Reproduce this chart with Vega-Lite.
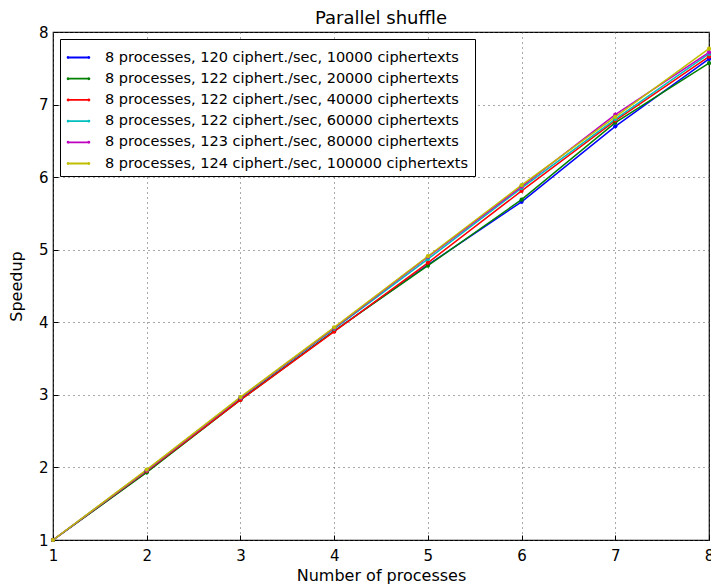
{
  "$schema": "https://vega.github.io/schema/vega-lite/v6.json",
  "width": 656,
  "height": 508,
  "autosize": {"type": "none"},
  "padding": {"left": 53, "top": 32, "right": 2, "bottom": 46},
  "background": "white",
  "title": {"text": "Parallel shuffle", "font": "DejaVu Sans", "fontSize": 18, "fontWeight": "normal", "color": "black", "offset": -3},
  "config": {
    "view": {"stroke": "black", "strokeWidth": 1.2},
    "font": "DejaVu Sans"
  },
  "data": {"values": [
    {"p": 1, "s": 1.00, "series": "8 processes, 120 ciphert./sec, 10000 ciphertexts"},
    {"p": 2, "s": 1.94, "series": "8 processes, 120 ciphert./sec, 10000 ciphertexts"},
    {"p": 3, "s": 2.94, "series": "8 processes, 120 ciphert./sec, 10000 ciphertexts"},
    {"p": 4, "s": 3.88, "series": "8 processes, 120 ciphert./sec, 10000 ciphertexts"},
    {"p": 5, "s": 4.79, "series": "8 processes, 120 ciphert./sec, 10000 ciphertexts"},
    {"p": 6, "s": 5.66, "series": "8 processes, 120 ciphert./sec, 10000 ciphertexts"},
    {"p": 7, "s": 6.70, "series": "8 processes, 120 ciphert./sec, 10000 ciphertexts"},
    {"p": 8, "s": 7.63, "series": "8 processes, 120 ciphert./sec, 10000 ciphertexts"},
    {"p": 1, "s": 1.00, "series": "8 processes, 122 ciphert./sec, 20000 ciphertexts"},
    {"p": 2, "s": 1.93, "series": "8 processes, 122 ciphert./sec, 20000 ciphertexts"},
    {"p": 3, "s": 2.93, "series": "8 processes, 122 ciphert./sec, 20000 ciphertexts"},
    {"p": 4, "s": 3.88, "series": "8 processes, 122 ciphert./sec, 20000 ciphertexts"},
    {"p": 5, "s": 4.78, "series": "8 processes, 122 ciphert./sec, 20000 ciphertexts"},
    {"p": 6, "s": 5.69, "series": "8 processes, 122 ciphert./sec, 20000 ciphertexts"},
    {"p": 7, "s": 6.75, "series": "8 processes, 122 ciphert./sec, 20000 ciphertexts"},
    {"p": 8, "s": 7.57, "series": "8 processes, 122 ciphert./sec, 20000 ciphertexts"},
    {"p": 1, "s": 1.00, "series": "8 processes, 122 ciphert./sec, 40000 ciphertexts"},
    {"p": 2, "s": 1.95, "series": "8 processes, 122 ciphert./sec, 40000 ciphertexts"},
    {"p": 3, "s": 2.93, "series": "8 processes, 122 ciphert./sec, 40000 ciphertexts"},
    {"p": 4, "s": 3.87, "series": "8 processes, 122 ciphert./sec, 40000 ciphertexts"},
    {"p": 5, "s": 4.82, "series": "8 processes, 122 ciphert./sec, 40000 ciphertexts"},
    {"p": 6, "s": 5.81, "series": "8 processes, 122 ciphert./sec, 40000 ciphertexts"},
    {"p": 7, "s": 6.78, "series": "8 processes, 122 ciphert./sec, 40000 ciphertexts"},
    {"p": 8, "s": 7.66, "series": "8 processes, 122 ciphert./sec, 40000 ciphertexts"},
    {"p": 1, "s": 1.00, "series": "8 processes, 122 ciphert./sec, 60000 ciphertexts"},
    {"p": 2, "s": 1.96, "series": "8 processes, 122 ciphert./sec, 60000 ciphertexts"},
    {"p": 3, "s": 2.96, "series": "8 processes, 122 ciphert./sec, 60000 ciphertexts"},
    {"p": 4, "s": 3.91, "series": "8 processes, 122 ciphert./sec, 60000 ciphertexts"},
    {"p": 5, "s": 4.87, "series": "8 processes, 122 ciphert./sec, 60000 ciphertexts"},
    {"p": 6, "s": 5.85, "series": "8 processes, 122 ciphert./sec, 60000 ciphertexts"},
    {"p": 7, "s": 6.80, "series": "8 processes, 122 ciphert./sec, 60000 ciphertexts"},
    {"p": 8, "s": 7.70, "series": "8 processes, 122 ciphert./sec, 60000 ciphertexts"},
    {"p": 1, "s": 1.00, "series": "8 processes, 123 ciphert./sec, 80000 ciphertexts"},
    {"p": 2, "s": 1.96, "series": "8 processes, 123 ciphert./sec, 80000 ciphertexts"},
    {"p": 3, "s": 2.96, "series": "8 processes, 123 ciphert./sec, 80000 ciphertexts"},
    {"p": 4, "s": 3.92, "series": "8 processes, 123 ciphert./sec, 80000 ciphertexts"},
    {"p": 5, "s": 4.90, "series": "8 processes, 123 ciphert./sec, 80000 ciphertexts"},
    {"p": 6, "s": 5.87, "series": "8 processes, 123 ciphert./sec, 80000 ciphertexts"},
    {"p": 7, "s": 6.86, "series": "8 processes, 123 ciphert./sec, 80000 ciphertexts"},
    {"p": 8, "s": 7.72, "series": "8 processes, 123 ciphert./sec, 80000 ciphertexts"},
    {"p": 1, "s": 1.00, "series": "8 processes, 124 ciphert./sec, 100000 ciphertexts"},
    {"p": 2, "s": 1.97, "series": "8 processes, 124 ciphert./sec, 100000 ciphertexts"},
    {"p": 3, "s": 2.97, "series": "8 processes, 124 ciphert./sec, 100000 ciphertexts"},
    {"p": 4, "s": 3.93, "series": "8 processes, 124 ciphert./sec, 100000 ciphertexts"},
    {"p": 5, "s": 4.91, "series": "8 processes, 124 ciphert./sec, 100000 ciphertexts"},
    {"p": 6, "s": 5.89, "series": "8 processes, 124 ciphert./sec, 100000 ciphertexts"},
    {"p": 7, "s": 6.83, "series": "8 processes, 124 ciphert./sec, 100000 ciphertexts"},
    {"p": 8, "s": 7.77, "series": "8 processes, 124 ciphert./sec, 100000 ciphertexts"}
  ]},
  "mark": {"type": "line", "strokeWidth": 1.5, "point": {"filled": true, "size": 18}},
  "encoding": {
    "x": {
      "field": "p", "type": "quantitative",
      "scale": {"domain": [1, 8], "nice": false, "zero": false},
      "axis": {
        "title": "Number of processes", "titleFont": "DejaVu Sans", "titleFontSize": 16, "titleFontWeight": "normal", "titleColor": "black", "titlePadding": 4,
        "values": [1, 2, 3, 4, 5, 6, 7, 8], "format": "d",
        "labelFont": "DejaVu Sans", "labelFontSize": 15, "labelColor": "black", "labelPadding": 13, "labelFlush": false,
        "domain": false, "ticks": true, "tickSize": -5, "tickColor": "black",
        "grid": true, "gridColor": "#555", "gridDash": [1, 4], "gridWidth": 1
      }
    },
    "y": {
      "field": "s", "type": "quantitative",
      "scale": {"domain": [1, 8], "nice": false, "zero": false},
      "axis": {
        "title": "Speedup", "titleFont": "DejaVu Sans", "titleFontSize": 16, "titleFontWeight": "normal", "titleColor": "black", "titlePadding": 14,
        "values": [1, 2, 3, 4, 5, 6, 7, 8], "format": "d",
        "labelFont": "DejaVu Sans", "labelFontSize": 15, "labelColor": "black", "labelPadding": 10, "labelFlush": false,
        "domain": false, "ticks": true, "tickSize": -5, "tickColor": "black",
        "grid": true, "gridColor": "#555", "gridDash": [1, 4], "gridWidth": 1
      }
    },
    "color": {
      "field": "series", "type": "nominal",
      "scale": {
        "domain": [
          "8 processes, 120 ciphert./sec, 10000 ciphertexts",
          "8 processes, 122 ciphert./sec, 20000 ciphertexts",
          "8 processes, 122 ciphert./sec, 40000 ciphertexts",
          "8 processes, 122 ciphert./sec, 60000 ciphertexts",
          "8 processes, 123 ciphert./sec, 80000 ciphertexts",
          "8 processes, 124 ciphert./sec, 100000 ciphertexts"
        ],
        "range": ["#0000ff", "#008000", "#ff0000", "#00bfbf", "#bf00bf", "#bfbf00"]
      },
      "legend": {
        "title": null, "orient": "none", "legendX": 7, "legendY": 7,
        "strokeColor": "black", "fillColor": "white", "padding": 6,
        "labelFont": "DejaVu Sans", "labelFontSize": 14.5, "labelColor": "black", "labelOffset": 14, "labelLimit": 0,
        "symbolType": "M-1,0L1,0M-0.95,0a0.05,0.05 0 1,0 0.1,0a0.05,0.05 0 1,0 -0.1,0M0.85,0a0.05,0.05 0 1,0 0.1,0a0.05,0.05 0 1,0 -0.1,0",
        "symbolSize": 529, "symbolStrokeWidth": 1.8, "rowPadding": 2.2
      }
    }
  }
}
